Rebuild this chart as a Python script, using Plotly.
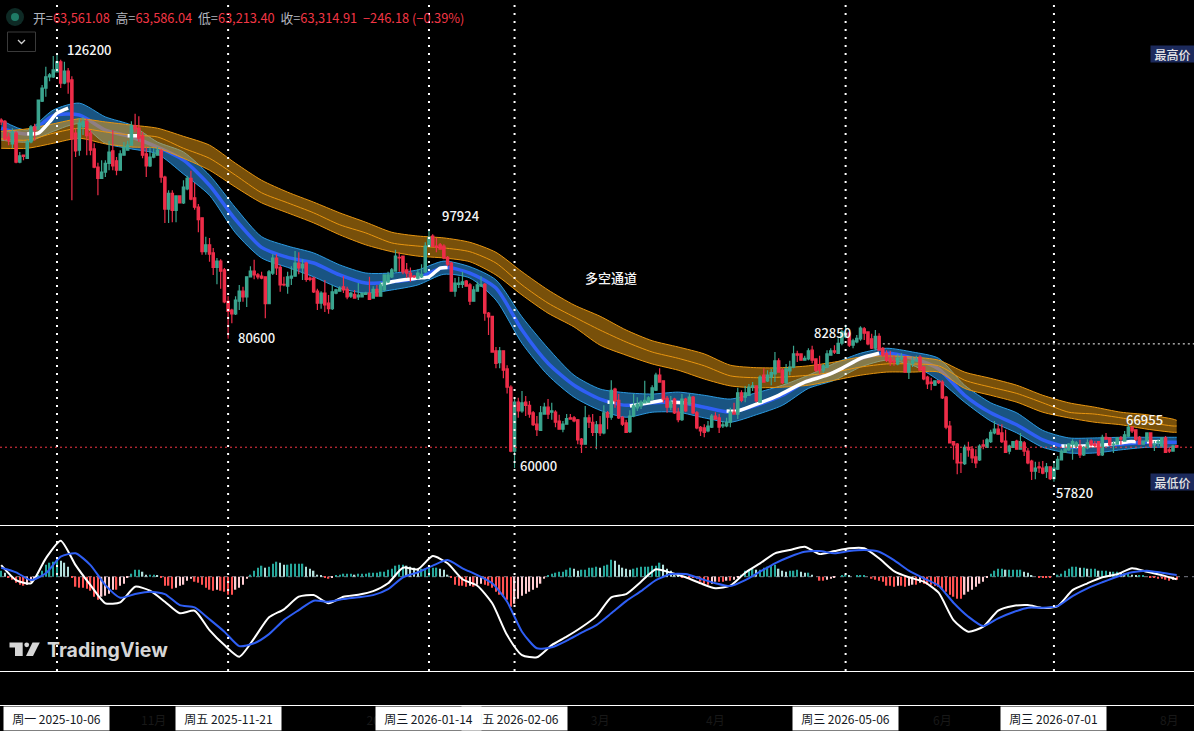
import pandas as pd
import plotly.graph_objects as go

W, H = 1194, 731

# daily candles, thousand USD
dates = pd.date_range("2025-09-21", periods=317, freq="D")
opens = [115.5,115.3,112.8,111.7,113.4,108.8,109.9,109.4,112.0,114.4,
114.1,118.5,120.6,122.4,122.4,123.2,124.8,121.4,123.3,121.9,
113.4,110.7,114.4,115.3,113.4,110.9,108.0,106.2,107.2,108.6,
110.6,109.0,107.5,109.9,110.7,111.5,114.6,114.2,113.0,110.1,
108.2,109.6,109.9,110.6,106.4,101.3,103.8,101.1,103.4,102.3,
104.5,106.2,103.1,101.6,99.9,94.5,95.6,94.3,92.0,93.0,
91.6,86.6,85.2,84.6,86.6,88.2,87.3,90.5,91.4,90.8,
90.6,90.5,86.2,91.1,93.5,92.0,89.3,89.0,90.3,90.6,
92.7,91.9,92.7,90.3,90.3,88.2,86.3,87.9,86.3,85.4,
87.9,88.2,88.9,88.5,87.4,87.7,87.3,87.3,87.7,87.9,
87.1,88.5,87.4,88.4,89.7,90.5,91.4,93.6,93.8,91.6,
91.1,90.6,90.3,90.5,91.3,95.4,97.0,95.4,95.6,95.4,
93.6,92.7,88.2,89.3,89.3,89.8,89.2,86.6,88.2,89.0,
89.3,84.7,84.2,78.7,76.8,78.7,75.8,72.9,62.7,70.5,
69.1,70.5,70.0,68.8,67.0,66.0,68.6,69.7,68.9,68.9,
67.5,66.2,67.0,68.0,68.0,67.7,64.6,63.8,68.0,67.3,
65.7,66.9,65.6,68.8,68.1,72.6,70.8,68.1,67.2,65.8,
68.3,69.6,69.9,70.4,70.5,71.0,72.4,74.8,73.9,71.1,
69.7,71.0,68.9,67.7,71.0,70.2,71.3,68.8,66.5,66.4,
65.9,66.5,68.3,68.0,66.7,66.7,67.3,68.9,68.6,72.0,
71.3,71.6,72.9,73.1,70.5,74.8,73.9,74.5,75.0,77.1,
75.6,73.6,75.5,76.1,78.2,78.2,77.2,77.4,78.8,77.4,
76.4,75.6,76.1,78.0,78.7,78.3,79.9,80.9,81.5,79.6,
80.1,80.6,82.2,81.7,80.6,79.1,81.0,79.1,78.3,77.5,
77.1,76.6,77.4,77.7,75.3,76.7,77.1,77.7,76.1,74.5,
73.7,73.2,73.9,73.7,71.3,66.7,64.2,63.8,60.9,60.7,
63.3,63.0,61.8,61.3,63.7,63.3,64.2,65.6,66.2,65.6,
64.3,62.7,63.3,64.3,63.0,64.0,62.7,61.1,59.5,60.2,
60.0,59.4,60.2,58.3,59.8,61.3,62.5,62.9,63.8,63.5,
63.5,62.1,63.2,64.3,63.8,64.2,62.1,64.9,64.8,63.7,
63.8,64.8,64.3,65.1,66.5,66.1,64.9,63.8,64.3,65.6,
63.7,64.0,63.5,64.8,62.9,62.7,63.561]
highs = [115.8,115.5,113.4,114.2,113.7,110.4,109.9,112.3,114.7,114.9,
118.7,121.1,124.0,123.0,125.7,126.2,125.1,124.8,123.8,122.5,
114.2,115.8,116.0,115.7,113.9,111.8,108.7,109.1,109.1,112.2,
113.9,109.6,110.7,112.0,112.2,115.3,116.5,116.1,113.6,111.2,
111.2,111.0,111.2,110.9,106.6,104.3,104.3,103.5,103.4,105.9,
106.6,107.4,105.5,102.1,99.9,96.9,96.7,95.1,93.5,93.3,
91.9,87.4,85.4,87.4,89.2,88.9,90.6,92.2,93.2,91.1,
91.3,90.6,91.6,94.1,94.1,92.4,90.5,91.3,92.2,94.6,
94.4,93.3,92.9,90.6,90.5,88.6,88.2,90.0,87.6,89.2,
88.6,89.0,90.6,88.9,88.1,88.4,89.5,87.9,88.1,90.5,
89.0,89.2,89.7,90.9,91.3,91.9,94.8,94.4,93.8,92.7,
92.0,90.8,91.7,92.5,96.0,97.924,97.3,96.7,95.9,95.7,
93.8,92.9,90.3,90.5,91.3,90.0,89.5,89.0,89.7,90.6,
89.5,84.9,84.2,79.3,79.3,78.8,76.4,73.2,71.3,71.2,
72.3,71.5,70.7,69.1,68.3,69.9,70.4,71.0,70.4,69.2,
68.5,67.5,68.6,68.6,68.3,67.8,64.8,69.9,68.5,68.6,
67.5,68.3,70.0,69.1,74.0,72.8,71.8,68.3,67.7,69.2,
71.8,71.3,70.8,73.9,71.5,73.2,75.2,75.9,74.0,71.5,
71.5,71.2,69.6,71.8,71.2,71.8,71.5,69.1,66.7,67.0,
67.5,68.6,68.9,68.6,67.5,68.0,69.6,70.4,72.8,72.4,
73.1,73.4,73.7,73.2,74.8,75.9,75.6,75.8,78.5,77.5,
75.9,76.6,77.1,79.5,78.7,78.3,77.9,79.1,79.5,77.5,
77.9,76.6,78.8,79.1,79.6,80.7,82.0,82.85,81.8,80.6,
81.2,82.6,82.5,81.8,81.4,82.0,81.5,79.3,78.8,78.7,
77.9,78.2,78.3,77.9,77.1,77.7,77.9,78.0,76.3,74.7,
74.4,74.0,74.0,74.0,71.5,67.5,64.3,64.0,62.4,63.7,
64.2,63.5,63.0,63.8,64.5,64.8,66.1,67.5,67.0,67.0,
66.1,63.7,64.2,64.5,65.6,64.3,63.2,61.3,61.0,61.0,
61.1,60.8,60.3,61.1,61.9,63.0,63.8,64.0,64.6,64.3,
64.5,63.5,64.6,64.6,64.3,64.3,65.3,65.6,64.9,64.3,
64.9,65.1,65.9,66.955,66.7,66.2,65.1,64.3,65.7,65.7,
64.3,64.6,64.9,65.1,63.3,63.7,63.586]
lows = [114.7,112.2,111.5,111.0,108.6,108.6,109.1,109.3,111.8,112.2,
113.9,118.4,119.2,121.7,122.2,123.2,120.6,121.2,119.7,102.7,
109.6,109.8,113.1,109.9,109.9,107.8,103.5,106.2,106.4,107.5,
107.5,106.7,107.4,109.8,110.7,111.4,113.6,112.0,109.4,106.4,
108.0,109.4,109.8,105.5,99.1,99.1,99.2,99.2,102.3,102.1,
104.3,102.7,101.2,97.6,94.0,94.0,92.9,90.8,89.3,88.6,
86.3,80.6,83.1,84.4,85.2,86.5,85.7,90.5,90.1,90.1,
90.1,83.9,86.2,90.8,90.8,88.1,89.0,87.8,89.2,90.5,
90.9,90.0,89.7,89.8,87.9,85.2,85.4,84.9,84.6,85.2,
87.7,88.1,87.9,86.9,87.1,87.1,86.8,87.3,87.6,86.8,
87.0,87.3,87.4,88.2,89.5,90.3,91.3,91.3,90.9,90.3,
89.7,90.3,90.1,90.3,91.1,95.2,95.2,94.4,94.8,93.3,
92.2,88.1,87.3,88.7,88.7,89.0,86.0,86.5,88.1,88.9,
83.5,81.2,78.5,75.9,75.9,74.3,71.9,62.5,60.0,68.0,
68.8,68.3,68.0,66.7,65.1,66.1,68.6,67.8,67.7,66.5,
66.2,65.7,66.9,67.7,67.3,63.8,62.4,63.8,66.4,65.1,
63.0,65.1,65.4,66.2,67.7,69.6,67.8,66.7,65.6,65.6,
68.1,69.1,69.4,70.4,70.4,70.8,72.3,73.6,70.4,68.8,
69.2,68.6,67.3,67.5,68.9,70.0,68.6,66.2,65.1,64.9,
65.7,66.4,67.7,65.6,66.4,66.5,66.5,68.5,67.8,70.5,
70.5,71.5,72.3,70.5,70.5,73.6,73.7,73.2,73.7,75.2,
73.4,73.4,74.8,75.9,76.9,77.1,77.1,77.2,76.7,75.3,
75.0,75.2,75.9,78.0,78.2,78.2,79.6,80.7,79.3,79.1,
79.9,80.3,80.4,79.6,79.0,78.8,78.7,77.7,76.9,76.3,
76.3,76.4,77.1,75.2,74.2,76.1,76.9,75.6,74.0,72.6,
72.4,73.1,73.4,71.0,66.2,64.0,61.3,59.0,59.2,60.5,
61.8,60.8,60.0,61.1,63.0,63.3,64.0,65.4,65.3,64.0,
62.4,62.2,63.2,62.9,62.9,61.9,60.6,58.1,58.2,59.2,
59.0,58.4,58.1,57.82,59.7,61.3,62.4,62.7,61.3,63.0,
61.6,61.9,63.0,63.5,63.3,61.9,61.9,64.5,63.5,62.4,
63.7,63.7,64.2,64.9,65.6,64.3,63.7,63.8,64.3,63.5,
62.7,63.5,63.3,62.5,62.4,62.7,63.213]
closes = [115.2,112.5,112.2,113.6,108.8,109.8,109.7,112.0,114.4,113.9,
118.7,120.6,122.4,122.7,123.5,124.8,121.4,123.3,121.6,112.5,
110.6,115.0,115.2,113.0,110.7,108.0,106.2,107.2,108.6,110.4,
108.2,107.5,110.1,111.2,111.5,114.6,114.1,112.6,109.9,108.2,
109.6,110.1,110.7,106.4,101.3,103.8,101.1,103.4,102.3,104.8,
106.2,102.9,101.6,99.6,94.5,95.6,94.1,92.0,93.0,91.4,
86.5,85.0,84.6,86.8,88.2,87.3,90.5,91.4,90.8,90.5,
90.3,86.2,91.3,93.5,91.9,89.2,89.2,90.5,90.6,92.7,
91.9,92.5,90.1,90.1,88.1,86.3,87.9,86.0,85.4,88.1,
88.4,88.7,88.4,87.3,87.9,87.1,87.6,87.9,87.9,86.9,
88.5,87.4,89.2,90.8,90.8,91.6,93.8,93.5,91.3,91.1,
90.5,90.5,91.1,90.9,95.4,96.8,95.4,95.2,94.9,93.5,
92.5,88.2,89.5,89.5,89.7,89.0,86.6,88.4,89.2,89.2,
84.7,84.1,78.5,76.7,78.7,75.6,72.9,62.7,70.5,69.1,
70.4,70.0,68.6,66.9,66.1,68.8,69.7,68.6,69.1,67.3,
66.2,67.0,67.9,67.8,67.5,64.5,63.8,68.0,67.3,65.7,
66.9,65.6,68.8,68.1,72.4,70.7,68.0,67.0,65.7,68.3,
69.9,70.2,70.5,70.8,71.2,72.8,74.8,73.7,71.0,69.7,
70.5,68.8,67.7,71.0,69.1,71.3,68.8,66.4,65.9,65.7,
66.7,68.3,67.8,66.5,66.9,67.3,68.9,68.6,72.0,70.8,
72.0,72.9,73.1,70.7,74.5,73.7,74.8,75.2,77.1,75.3,
73.6,75.8,76.1,78.2,78.0,77.2,77.5,78.7,77.2,75.6,
75.6,76.3,78.2,78.7,78.5,79.9,81.7,81.5,79.6,80.3,
80.7,82.3,81.5,79.8,79.1,81.0,78.8,78.0,77.2,76.9,
76.9,77.5,77.7,75.3,76.6,77.1,77.2,75.6,74.2,73.4,
73.5,73.9,73.6,71.2,66.5,64.0,63.7,60.8,60.8,63.3,
62.9,61.6,60.8,63.5,63.5,64.5,65.7,66.2,65.4,64.2,
62.5,63.5,64.2,63.0,64.2,62.7,60.8,59.5,60.0,60.0,
59.2,60.2,58.3,60.0,61.4,62.7,63.0,63.8,64.2,64.0,
62.1,63.3,64.0,63.7,63.6,62.1,64.9,64.6,63.7,63.8,
64.8,64.6,65.3,66.5,65.9,64.6,63.8,64.3,65.6,63.5,
63.8,64.2,64.8,62.5,62.7,63.5,63.315]

# channels, sampled weekly (last sample is the final bar)
band_dates = list(pd.date_range("2025-09-21", "2026-08-02", freq="7D")) + [pd.Timestamp("2026-08-03")]
blue_up = [115.5,113.9,117.1,118.2,116.0,114.7,112.0,110.4,106.7,101.5,96.9,95.4,94.3,92.4,91.1,91.1,91.6,93.0,92.1,90.0,84.1,79.1,74.8,72.6,72.0,71.8,72.1,71.6,71.0,72.0,73.2,74.8,76.7,78.3,79.1,78.5,77.5,73.2,70.4,68.8,66.0,64.8,64.8,64.9,64.9,64.9,64.9]
blue_mid = [114.2,113.3,116.2,116.3,113.9,112.8,111.2,109.1,105.1,99.6,95.2,93.6,92.7,90.8,89.5,89.7,90.3,92.0,91.1,88.7,82.0,76.7,73.2,71.0,70.0,70.4,70.5,69.7,68.9,70.0,71.6,74.0,75.3,77.4,78.3,77.5,75.8,71.6,68.8,66.9,64.5,63.3,63.7,63.8,64.1,64.1,64.1]
blue_lo = [112.3,112.0,113.7,114.9,111.8,110.9,110.1,106.9,103.5,97.5,93.5,92.0,90.5,88.7,87.9,88.4,89.2,90.9,90.3,86.8,79.9,74.8,71.3,69.2,68.1,68.9,68.9,68.0,67.3,68.5,70.0,72.7,74.0,76.1,77.2,76.4,74.0,70.5,67.5,65.6,63.3,62.4,62.4,62.9,63.3,63.3,63.3]
orange_up = [113.7,114.1,114.9,115.7,115.2,114.7,114.2,112.9,111.5,108.6,105.9,104.0,102.4,100.7,99.2,97.6,97.0,96.7,96.0,94.4,91.3,88.4,86.0,84.2,82.0,80.3,79.3,78.2,76.4,76.0,76.0,76.3,76.9,77.7,77.9,77.7,77.2,75.3,74.3,73.2,71.6,70.4,69.7,68.9,68.5,67.8,67.6]
orange_mid = [112.5,112.3,113.4,114.2,113.6,113.1,112.8,111.0,109.4,106.7,103.9,102.3,100.7,98.8,97.5,95.9,95.4,95.1,94.5,92.7,89.2,86.3,84.1,82.0,80.1,78.5,77.5,76.3,74.7,74.4,74.5,74.8,75.3,76.1,76.6,76.6,76.3,74.0,72.9,71.9,70.4,68.9,68.6,68.0,67.3,66.7,66.7]
orange_lo = [111.0,111.0,111.8,112.6,111.7,111.2,111.0,109.4,107.5,104.8,102.3,100.7,99.1,97.2,95.6,94.5,93.8,93.5,92.9,90.8,87.6,84.7,82.5,79.6,78.0,76.6,75.6,74.2,73.1,72.8,72.9,73.2,74.0,74.8,75.3,75.3,75.3,72.7,71.6,70.5,68.9,68.0,67.3,66.9,66.2,65.7,65.7]

# white stretches of the channel centre line, None breaks the line
white_dates = ["2025-09-28","2025-10-01","2025-10-04","2025-10-06","2025-10-09",None,
               "2025-10-25","2025-10-28",None,
               "2026-01-01","2026-01-04","2026-01-11","2026-01-14","2026-01-17","2026-01-19",None,
               "2026-03-03","2026-03-05",None,
               "2026-03-09","2026-03-15","2026-03-18",None,
               "2026-03-20","2026-03-24",None,
               "2026-04-04","2026-04-07","2026-04-13","2026-04-18","2026-04-25","2026-05-01","2026-05-05","2026-05-10","2026-05-15",None,
               "2026-07-03","2026-07-09","2026-07-15","2026-07-21","2026-07-23",None,
               "2026-07-26","2026-07-30"]
white_vals = [113.3,113.4,115.2,116.6,117.4,None,
              113.0,113.0,None,
              89.2,89.7,90.3,90.5,91.9,92.0,None,
              70.5,70.5,None,
              69.9,70.5,70.8,None,
              70.5,70.4,None,
              69.1,69.1,70.4,71.6,73.7,74.8,75.9,77.5,78.3,None,
              63.5,63.5,63.7,64.2,64.2,None,
              64.2,64.2]

# MACD pane
macd_hist = [300,200,-50,-150,-300,-400,-450,-400,-250,-150,
50,300,600,700,750,900,800,700,500,-50,
-500,-550,-550,-600,-700,-1000,-1150,-1000,-950,-850,
-650,-650,-450,-350,-50,150,350,350,250,100,
100,100,50,-50,-450,-450,-600,-550,-450,-400,
-200,-100,-250,-300,-400,-550,-650,-700,-650,-700,
-750,-900,-900,-650,-550,-400,-100,100,300,450,
550,450,500,650,750,700,600,600,650,650,
650,650,500,400,300,100,50,-50,-100,-50,
50,100,150,150,150,100,150,150,150,200,
200,200,250,250,350,400,550,600,600,550,
500,450,400,400,400,450,450,450,400,350,
100,-50,-400,-450,-450,-500,-450,-500,-400,-350,
-400,-450,-550,-750,-900,-1000,-1150,-1500,-1350,-1100,
-950,-850,-750,-650,-550,-350,-100,50,150,200,
250,250,350,450,400,300,350,350,450,450,
500,450,550,600,850,800,600,450,400,350,
400,450,500,500,500,550,550,700,600,400,
300,150,50,-50,0,-50,-50,-100,-250,-350,
-400,-350,-250,-250,-250,-200,-200,-150,-50,100,
300,350,400,350,350,450,500,550,600,400,
300,250,300,300,350,250,200,200,100,0,
-200,-200,-150,-100,-50,0,50,100,50,0,
50,50,50,0,-100,-150,-200,-250,-450,-450,
-500,-450,-450,-500,-450,-400,-400,-300,-350,-400,
-400,-450,-500,-650,-750,-900,-1000,-1100,-1100,-900,
-750,-650,-500,-350,-250,-50,150,300,400,400,
350,350,350,350,350,250,200,50,0,-50,
-50,-50,-50,0,100,150,300,400,500,500,
450,450,400,400,400,300,300,300,250,250,
250,200,150,150,100,50,50,50,0,-50,
-50,-100,-100,-150,-200,-150,-150]
macd_dates = pd.date_range("2025-09-21", periods=80, freq="4D")
macd_line = [580,-170,-330,920,1800,580,-420,-1330,-1280,-500,
-700,-1250,-1830,-1700,-2670,-3420,-4000,-3080,-2030,-1630,
-1000,-920,-1330,-1000,-900,-720,-330,450,370,1030,
670,-130,-450,-1330,-2920,-3920,-4030,-3420,-3000,-2530,
-1970,-1030,-870,-250,370,200,-30,-330,-580,-450,
200,670,1170,1330,1500,1130,1280,1420,1420,920,
280,-30,-250,-800,-2170,-2750,-2500,-1700,-1470,-1420,
-1570,-1470,-670,-330,-30,120,420,250,80,-130]
signal_line = [450,220,-170,170,1000,1170,580,-420,-1050,-870,
-750,-870,-1420,-1530,-2130,-2750,-3470,-3330,-2870,-2170,
-1670,-1200,-1250,-1120,-1030,-920,-620,-30,220,550,
830,420,80,-330,-1250,-2750,-3580,-3530,-3200,-2800,
-2420,-1830,-1220,-720,-170,130,130,-100,-330,-470,
-170,250,670,1000,1250,1280,1170,1280,1330,1250,
830,300,-80,-450,-1300,-2000,-2470,-2080,-1780,-1550,
-1550,-1470,-970,-580,-280,0,220,300,200,80]

# text
ohlc_legend = [("开","63,561.08"),("高","63,586.04"),("低","63,213.40"),("收","63,314.91")]
price_labels = [("126200",89,49),("97924",461,215),("80600",256,337),("60000",538,465),
                ("82850",832,332),("57820",1074,492),("66955",1144,419),("多空通道",611,277)]
month_ticks = ["2025-11-01","2025-12-30","2026-03-01","2026-04-01","2026-06-01","2026-08-01"]
month_text = ["11月","20","3月","4月","6月","8月"]
date_tags = [("2026-02-06","周五 2026-02-06"),("2025-10-06","周一 2025-10-06"),("2025-11-21","周五 2025-11-21"),
             ("2026-01-14","周三 2026-01-14"),("2026-05-06","周三 2026-05-06"),("2026-07-01","周三 2026-07-01")]
marked_days = ["2025-10-06","2025-11-21","2026-01-14","2026-02-06","2026-05-06","2026-07-01"]
last_price = 63.315
recent_high = 79.8

UP, DOWN = "#3ba58f", "#ee2d49"
FONT = "Noto Sans CJK SC"


def px(x):
    return x / W


def py(y):
    return 1 - y / H


# pane layout in pixels
PRICE_BOTTOM, MACD_BOTTOM, AXIS_TOP = 525, 671, 705

fig = go.Figure()


def band(name, up, mid, lo, fill, edge, mid_color, mid_width):
    fig.add_trace(go.Scatter(x=band_dates, y=up, mode="lines", name=name, line=dict(color=edge, width=1, shape="spline", smoothing=0.7)))
    fig.add_trace(go.Scatter(x=band_dates, y=lo, mode="lines", name=name, fill="tonexty", fillcolor=fill,
                             line=dict(color=edge, width=1, shape="spline", smoothing=0.7)))
    fig.add_trace(go.Scatter(x=band_dates, y=mid, mode="lines", name=name, line=dict(color=mid_color, width=mid_width, shape="spline", smoothing=0.7)))


band("blue", blue_up, blue_mid, blue_lo, "rgba(41,136,210,0.62)", "#2b9ae0", "#2f5ff5", 3.5)
band("orange", orange_up, orange_mid, orange_lo, "rgba(240,160,20,0.5)", "#e8950f", "#e8950f", 1)
fig.add_trace(go.Scatter(x=white_dates, y=white_vals, mode="lines", line=dict(color="#ffffff", width=3.5, shape="spline", smoothing=0.6), connectgaps=False))

# candles sit on an overlaying axis so they draw above the channels
fig.add_trace(go.Candlestick(x=dates, open=opens, high=highs, low=lows, close=closes, yaxis="y3", whiskerwidth=0,
                             increasing=dict(line=dict(color=UP, width=1.2), fillcolor=UP),
                             decreasing=dict(line=dict(color=DOWN, width=1.2), fillcolor=DOWN)))

hist_colors = []
prev = 0
for v in macd_hist:
    if v >= 0:
        hist_colors.append("#26a69a" if v >= prev else "#b2dfdb")
    else:
        hist_colors.append("#ff5252" if v <= prev else "#ffcdd2")
    prev = v
fig.add_trace(go.Bar(x=dates, y=macd_hist, yaxis="y2", width=0.38 * 86400000, marker=dict(color=hist_colors, line_width=0)))
fig.add_trace(go.Scatter(x=macd_dates, y=macd_line, yaxis="y2", mode="lines", line=dict(color="#ffffff", width=2, shape="spline", smoothing=0.6)))
fig.add_trace(go.Scatter(x=macd_dates, y=signal_line, yaxis="y2", mode="lines", line=dict(color="#2f5ff5", width=2, shape="spline", smoothing=0.6)))

shapes = []
for d in marked_days:
    shapes.append(dict(type="line", xref="x", yref="paper", x0=d, x1=d, y0=py(MACD_BOTTOM), y1=1, line=dict(color="#ffffff", width=2, dash="2px,6px")))
shapes.append(dict(type="line", xref="paper", yref="y", x0=0, x1=1, y0=last_price, y1=last_price, line=dict(color="#f23645", width=1, dash="2px,3px")))
shapes.append(dict(type="line", xref="x", yref="y", x0="2026-05-16", x1="2026-08-08", y0=recent_high, y1=recent_high, line=dict(color="#ffffff", width=1, dash="2px,3px")))
shapes.append(dict(type="line", xref="paper", yref="y2", x0=0, x1=1, y0=0, y1=0, layer="below", line=dict(color="#787b86", width=1, dash="4px,4px")))
for y in (PRICE_BOTTOM, MACD_BOTTOM, AXIS_TOP):
    shapes.append(dict(type="line", xref="paper", yref="paper", x0=0, x1=1, y0=py(y + 0.5), y1=py(y + 0.5), line=dict(color="#ffffff", width=1)))


def pixel_path(points):
    return "M" + " L".join(f"{px(x):.5f},{py(y):.5f}" for x, y in points) + " Z"


# legend dot and collapse button
shapes.append(dict(type="circle", xref="paper", yref="paper", x0=px(6), x1=px(24), y0=py(26), y1=py(8), fillcolor="#0e2a25", line_width=0))
shapes.append(dict(type="circle", xref="paper", yref="paper", x0=px(11), x1=px(19), y0=py(21), y1=py(13), fillcolor="#1f7a66", line_width=0))
shapes.append(dict(type="rect", xref="paper", yref="paper", x0=px(7.5), x1=px(35.5), y0=py(51.5), y1=py(32), fillcolor="#000000", line=dict(color="#3a3a3a", width=1)))
shapes.append(dict(type="path", xref="paper", yref="paper", path=f"M{px(18):.5f},{py(40):.5f} L{px(21.5):.5f},{py(43.5):.5f} L{px(25):.5f},{py(40):.5f}", line=dict(color="#d0d0d0", width=1.3)))
# TradingView logo
logo = "#d6d6d6"
shapes.append(dict(type="path", xref="paper", yref="paper", fillcolor=logo, line_width=0,
                   path=pixel_path([(9.5, 642.5), (22.7, 642.5), (22.7, 656), (15, 656), (15, 647.5), (9.5, 647.5)])))
shapes.append(dict(type="circle", xref="paper", yref="paper", fillcolor=logo, line_width=0, x0=px(24.3), x1=px(29.1), y0=py(647.2), y1=py(642.4)))
shapes.append(dict(type="path", xref="paper", yref="paper", fillcolor=logo, line_width=0,
                   path=pixel_path([(32.5, 642.5), (39.8, 642.5), (33, 656), (26, 656)])))

annotations = []
gray = "#b2b5be"
red = "#f23645"
legend_html = "  ".join(f'<span style="color:{gray}">{k}=</span><span style="color:{red}">{v}</span>' for k, v in ohlc_legend)
legend_html += f'<span style="color:{red}">  −246.18 (−0.39%)</span>'
annotations.append(dict(xref="paper", yref="paper", x=px(31), y=py(17), xanchor="left", yanchor="middle", showarrow=False, text=legend_html,
                        font=dict(family=FONT, size=12.8)))
for text, x, y in price_labels:
    annotations.append(dict(xref="paper", yref="paper", x=px(x), y=py(y), xanchor="center", yanchor="middle", showarrow=False, text=text,
                            font=dict(family=FONT, size=13, color="#f6f6f6", weight=500)))
for text, y in (("最高价", 54), ("最低价", 482)):
    annotations.append(dict(xref="paper", yref="paper", x=px(1172), y=py(y), xanchor="center", yanchor="middle", showarrow=False, text=text,
                            width=41, height=14, bgcolor="#1c2a5c", font=dict(family=FONT, size=12, color="#e6e6e6", weight=500)))
annotations.append(dict(xref="paper", yref="paper", x=px(45), y=py(650), xanchor="left", yanchor="middle", showarrow=False, text="<b>TradingView</b>",
                        font=dict(family="Inter", size=19.5, color=logo)))
for d, text in date_tags:
    annotations.append(dict(xref="x", yref="paper", x=d, y=py(718.5), xanchor="center", yanchor="middle", showarrow=False, text=text,
                            width=103, height=21, bgcolor="#ffffff", font=dict(family=FONT, size=12, color="#131722")))

x_range = [pd.Timestamp("2025-09-21") - pd.Timedelta(days=0.32), pd.Timestamp("2025-09-21") + pd.Timedelta(days=320.65)]
price_range = [50.91, 134.65]
fig.update_layout(
    width=W, height=H, autosize=False,
    margin=dict(l=0, r=0, t=0, b=0),
    paper_bgcolor="#000000", plot_bgcolor="#000000",
    showlegend=False, hovermode=False, dragmode=False, boxgap=0.1,
    shapes=shapes, annotations=annotations,
    xaxis=dict(type="date", range=x_range, domain=[0, 1], anchor="free", position=py(AXIS_TOP), showgrid=False, zeroline=False, showline=False,
               rangeslider=dict(visible=False), tickmode="array", tickvals=month_ticks, ticktext=month_text,
               ticks="outside", ticklen=5, tickcolor="#000000", tickfont=dict(family=FONT, size=12, color="#181818")),
    yaxis=dict(domain=[py(PRICE_BOTTOM), 1], range=price_range, visible=False, showgrid=False, zeroline=False),
    yaxis2=dict(domain=[py(MACD_BOTTOM), py(PRICE_BOTTOM)], range=[-4715, 2585], visible=False, showgrid=False, zeroline=False),
    yaxis3=dict(overlaying="y", range=price_range, visible=False, showgrid=False, zeroline=False),
)

fig.write_html("out.html", config=dict(displayModeBar=False), post_script="document.body.style.margin='0';")
